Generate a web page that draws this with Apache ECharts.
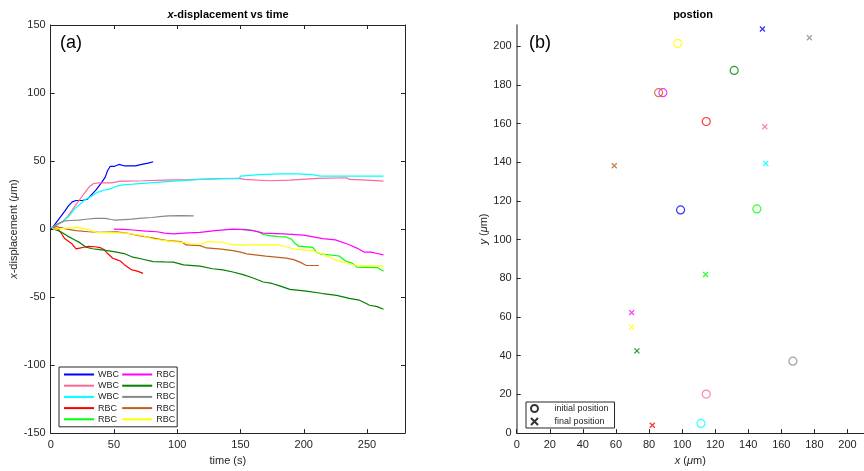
<!DOCTYPE html>
<html><head><meta charset="utf-8">
<script src="https://cdn.jsdelivr.net/npm/echarts@6/dist/echarts.min.js"></script>
<style>html,body{margin:0;padding:0;background:#fff}#c{width:864px;height:471px}</style>
</head><body><div id="c"></div>
<script>
// ---- data: x-displacement (µm) vs time (s) ----
const wbc1 = [[0,0],[3,3],[7,8],[11,13],[14,17],[17,20],[20,21],[25,21],[29,22],[32,25],[36,29],[40,34],[43,38],[45,43],[47,46],[50,46],[54,47.5],[58,46.5],[63,46.5],[67,46.5],[72,47.5],[77,48.5],[81,49.5]];
const wbc2 = [[0,1],[5,3],[10,6],[14,10],[17,14],[20,18],[24,23],[28,28],[31,31.5],[34,33.5],[38,34],[44,34],[48,34],[54,35],[60,35.3],[73,35.5],[90,36],[110,36.3],[118,36.5],[135,37],[149,37.2],[153,36.5],[173,35.5],[189,36],[211,37.2],[234,37.7],[236,36.5],[250,36],[263,35.3]];
const wbc3 = [[0,1],[5,3],[10,6],[15,10],[19,15],[23,18],[27,21.5],[32,24],[37,27],[42,28.5],[47,29.5],[52,31.5],[57,32.5],[65,33],[78,34],[95,35],[118,36.5],[135,37],[149,37.2],[150,38.9],[165,40],[181,40.6],[195,40.6],[207,40],[213,38.9],[240,38.9],[263,38.9]];
const rbc1 = [[2,1],[6,0],[9,-4],[11,-7],[14,-9],[17,-11],[20,-14.6],[23,-14],[26,-13.4],[30,-12.8],[35,-13],[39,-13.6],[42,-15],[45,-18],[49,-21.5],[52,-22.5],[55,-23.5],[58,-26],[61,-28],[64,-30],[67,-30.6],[70,-31.5],[73,-32.6]];
const rbc2 = [[152,0],[158,-0.8],[164,-2],[168,-4],[173,-4.8],[180,-5.5],[186,-5.8],[190,-7.3],[193,-10.5],[196,-12.6],[207,-13.5],[210,-17],[213,-18.2],[228,-19.8],[233,-23.5],[238,-25],[242,-28],[250,-28.2],[258,-28.3],[263,-31]];
const rbc3 = [[50,0],[58,-0.3],[65,-0.7],[75,-1.5],[84,-2],[90,-3],[97,-3.6],[105,-3],[118,-2.4],[130,-1.2],[144,0],[150,-0.3],[160,-1.2],[168,-3],[184,-3.6],[200,-4.5],[215,-7],[225,-8],[236,-11.5],[242,-14],[248,-17],[253,-17],[258,-18],[263,-19]];
const rbc4 = [[2,0],[8,-2],[13,-5],[18,-7.5],[23,-10],[28,-13.4],[33,-14.5],[39,-15.1],[46,-16],[52,-17],[58,-18],[65,-20.7],[72,-22],[81,-23.9],[90,-24.2],[97,-24.3],[105,-26.3],[118,-27.2],[128,-29.2],[136,-30],[144,-31.6],[152,-33.5],[160,-36],[168,-38.9],[175,-40],[181,-41.8],[189,-44.3],[202,-45.7],[215,-47.4],[226,-48.7],[236,-51],[244,-52.3],[249,-54.5],[252,-56],[258,-57],[263,-59]];
const rbc5 = [[2,2],[6,4],[11,6],[16,6.3],[22,6.6],[28,7.2],[35,7.8],[43,7.8],[48,7],[51,6.6],[58,7],[64,7.3],[72,8],[80,8.5],[88,9.3],[93,9.7],[103,9.9],[113,9.7]];
const rbc6 = [[2,2.4],[7,1.2],[13,0],[20,-1.2],[30,-2],[39,-2.4],[52,-2],[60,-3],[70,-4.9],[80,-6.5],[92,-8.5],[103,-9.2],[107,-11.7],[118,-12.2],[123,-13.9],[135,-14.8],[144,-15.8],[150,-17],[155,-18.2],[170,-19.9],[186,-21.4],[192,-22.5],[197,-24.3],[202,-26.8],[212,-26.8]];
const rbc7 = [[2,0],[10,0.5],[20,1.2],[29,0],[36,-2.4],[45,-2.6],[60,-3],[73,-4.9],[81,-7.3],[97,-9.2],[107,-10],[110,-11],[120,-11],[124,-9.2],[136,-9.7],[144,-11.7],[160,-11.7],[181,-11.7],[186,-13],[194,-15],[207,-15.8],[212,-17.5],[215,-18.2],[220,-20.5],[226,-23],[236,-25.5],[242,-27],[250,-27],[263,-27.2]];

const seriesNames = ['WBC1','WBC2','WBC3','RBC1','RBC2','RBC3','RBC4','RBC5','RBC6','RBC7'];
const seriesData = [wbc1,wbc2,wbc3,rbc1,rbc2,rbc3,rbc4,rbc5,rbc6,rbc7];
const cellColors = ['#0000ff','#ff6699','#00ffff','#ff0000','#00ff00','#ff00ff','#008000','#888888','#bf5f1f','#ffff00'];

// ---- data: positions (µm) ----
const initialX = [99.1,114.6,111.4,114.6,145.2,88.4,131.5,167,85.8,97.3];
const initialY = [115.4,20.2,5,161.1,115.9,176,187.5,37.2,176,201.5];
const finalX = [148.6,150,150.6,82,114.2,69.5,72.7,177,59,69.5];
const finalY = [208.9,158.4,139.4,4.1,82,62.3,42.5,204.4,138.2,54.8];

const leftTicksX = [0,280,50];
const leftTicksY = [-150,150,50];
const rightTicksX = [0,210,20];
const rightTicksY = [0,211,20];

const FONT = 'Liberation Sans';
const TXT = '#262626';
const chart = echarts.init(document.getElementById('c'), null, {renderer:'canvas'});

function axisBase(extra){
  return Object.assign({
    axisLine:{show:true,onZero:false,lineStyle:{color:TXT,width:1}},
    axisTick:{show:true,inside:true,length:4,lineStyle:{color:TXT}},
    axisLabel:{color:TXT,fontSize:11,fontFamily:FONT},
    splitLine:{show:false}
  }, extra);
}

const lineSeries = seriesNames.map((n,i)=>({
  name:n, type:'line', xAxisIndex:0, yAxisIndex:0, data:seriesData[i],
  symbol:'none', showSymbol:false, animation:false,
  lineStyle:{color:cellColors[i],width:1.2}, itemStyle:{color:cellColors[i]}
}));

const xMark = 'path://M0 0L10 10M10 0L0 10';
const italicRich = {i:{fontStyle:'italic',fontSize:11,fontFamily:FONT,color:TXT}};

const option = {
  animation:false,
  grid:[
    {left:50.7,right:459,top:25,bottom:35.3},
    {left:516.7,right:-5,top:25,bottom:35.3}
  ],
  xAxis:[
    axisBase({gridIndex:0,type:'value',min:leftTicksX[0],max:leftTicksX[1],interval:leftTicksX[2],
      name:'time (s)',nameLocation:'middle',nameGap:21,
      nameTextStyle:{color:TXT,fontSize:11,fontFamily:FONT},
      axisLabel:{color:TXT,fontSize:11,fontFamily:FONT,margin:6,showMaxLabel:false}}),
    axisBase({gridIndex:0,type:'value',position:'top',min:leftTicksX[0],max:leftTicksX[1],interval:leftTicksX[2],
      axisLabel:{show:false}}),
    axisBase({gridIndex:1,type:'value',min:rightTicksX[0],max:rightTicksX[1],interval:rightTicksX[2],
      name:'{i|x} ({i|μ}m)',nameLocation:'middle',nameGap:21,
      nameTextStyle:{color:TXT,fontSize:11,fontFamily:FONT,rich:italicRich},
      axisLabel:{color:TXT,fontSize:11,fontFamily:FONT,margin:6,showMaxLabel:false}})
  ],
  yAxis:[
    axisBase({gridIndex:0,type:'value',min:leftTicksY[0],max:leftTicksY[1],interval:leftTicksY[2],
      name:'{i|x}-displacement ({i|μ}m)',nameLocation:'middle',nameGap:26,
      nameTextStyle:{color:TXT,fontSize:11,fontFamily:FONT,rich:italicRich},
      axisLabel:{color:TXT,fontSize:11,fontFamily:FONT,margin:5}}),
    axisBase({gridIndex:0,type:'value',position:'right',min:leftTicksY[0],max:leftTicksY[1],interval:leftTicksY[2],
      axisLabel:{show:false}}),
    axisBase({gridIndex:1,type:'value',min:rightTicksY[0],max:rightTicksY[1],interval:rightTicksY[2],
      name:'{i|y} ({i|μ}m)',nameLocation:'middle',nameGap:25,
      nameTextStyle:{color:TXT,fontSize:11,fontFamily:FONT,rich:italicRich},
      axisLine:{show:true,onZero:false,lineStyle:{color:'#666',width:1.5}},
      axisLabel:{color:TXT,fontSize:11,fontFamily:FONT,margin:5,showMaxLabel:false}})
  ],
  legend:[
    {
      data:seriesNames, orient:'vertical', left:59, top:367, height:56,
      itemWidth:30, itemHeight:9, itemGap:2.2, padding:[3,2,3,4],
      borderColor:TXT, borderWidth:1, backgroundColor:'#fff',
      itemStyle:{opacity:0},
      formatter:(n)=>n.replace(/\d+$/,''),
      textStyle:{color:TXT,fontSize:9,fontFamily:FONT,padding:[0,0,0,-1]},
      selectedMode:false
    },
    {
      data:['initial position','final position'], orient:'vertical', left:526, top:402,
      itemWidth:30, itemHeight:7, itemGap:4, padding:[2,6,2,4],
      borderColor:TXT, borderWidth:1, backgroundColor:'#fff',
      textStyle:{color:TXT,fontSize:9,fontFamily:FONT},
      selectedMode:false
    }
  ],
  series: lineSeries.concat([
    {name:'initial position', type:'scatter', xAxisIndex:2, yAxisIndex:2, symbol:'circle', symbolSize:8,
      itemStyle:{color:'rgba(0,0,0,0)',borderColor:'#000',borderWidth:1.2},
      data: initialX.map((x,i)=>({value:[x,initialY[i]],itemStyle:{color:'rgba(0,0,0,0)',borderColor:cellColors[i],borderWidth:1.2}}))},
    {name:'final position', type:'scatter', xAxisIndex:2, yAxisIndex:2, symbol:xMark, symbolSize:5,
      itemStyle:{color:'#000',borderColor:'#000',borderWidth:1.3},
      data: finalX.map((x,i)=>({value:[x,finalY[i]],itemStyle:{color:cellColors[i],borderColor:cellColors[i],borderWidth:1.3}}))}
  ]),
  graphic:[
    {type:'text',x:228,y:9,style:{text:'{i|x}-displacement vs time',font:'bold 11px '+FONT,fill:'#000',textAlign:'center',
      rich:{i:{fontStyle:'italic',fontWeight:'bold',fontSize:11,fontFamily:FONT,fill:'#000'}}}},
    {type:'text',x:693,y:9,style:{text:'postion',font:'bold 11px '+FONT,fill:'#000',textAlign:'center'}},
    {type:'text',x:60,y:34,style:{text:'(a)',font:'18px '+FONT,fill:'#000'}},
    {type:'text',x:529,y:34,style:{text:'(b)',font:'18px '+FONT,fill:'#000'}}
  ]
};
chart.setOption(option);
</script></body></html>
